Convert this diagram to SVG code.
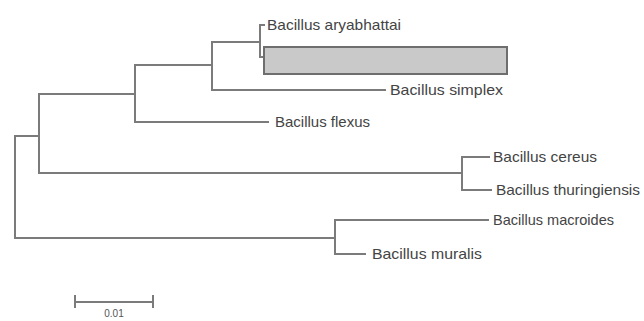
<svg xmlns="http://www.w3.org/2000/svg" width="644" height="321" viewBox="0 0 644 321">
<style>
.br{fill:none;stroke:#7b7b7b;stroke-width:2;stroke-linecap:square}
.lb{font-family:"Liberation Sans",Arial,sans-serif;font-size:15px;fill:#444444}
.sc{font-family:"Liberation Sans",Arial,sans-serif;font-size:10px;fill:#555}
</style>
<rect width="644" height="321" fill="#ffffff"/>
<g id="connectors">
<path class="br" d="M39,136 H15 V238 H335"/>
<path class="br" d="M39,94 V173 H462"/>
<path class="br" d="M135,94 H39"/>
<path class="br" d="M135,65 V122 H268"/>
<path class="br" d="M212,65 H135"/>
<path class="br" d="M212,42 V90 H385"/>
<path class="br" d="M260,42 H212"/>
<path class="br" d="M260,25 V57 H266"/>
<path class="br" d="M260,25 H264"/>
<path class="br" d="M462,157 V190"/>
<path class="br" d="M462,157 H489"/>
<path class="br" d="M462,190 H491"/>
<path class="br" d="M335,220 V254 H365"/>
<path class="br" d="M335,220 H488"/>
</g>
<g id="highlight-box"><rect x="264" y="47" width="243" height="27" fill="#c9c9c9" stroke="#6e6e6e" stroke-width="2"/></g>
<g id="n-aryabhattai"><text class="lb" x="267" y="30" textLength="134" lengthAdjust="spacingAndGlyphs">Bacillus aryabhattai</text></g>
<g id="n-simplex"><text class="lb" x="390" y="95" textLength="113" lengthAdjust="spacingAndGlyphs">Bacillus simplex</text></g>
<g id="n-flexus"><text class="lb" x="275" y="127">Bacillus flexus</text></g>
<g id="n-cereus"><text class="lb" x="493" y="162" textLength="104" lengthAdjust="spacingAndGlyphs">Bacillus cereus</text></g>
<g id="n-thuringiensis"><text class="lb" x="496" y="195" textLength="144" lengthAdjust="spacingAndGlyphs">Bacillus thuringiensis</text></g>
<g id="n-macroides"><text class="lb" x="493" y="225" textLength="121" lengthAdjust="spacingAndGlyphs">Bacillus macroides</text></g>
<g id="n-muralis"><text class="lb" x="372" y="259" textLength="110" lengthAdjust="spacingAndGlyphs">Bacillus muralis</text></g>
<g id="scale-bar">
<path class="br" d="M75,302 H153 M75,296 V307 M153,296 V307"/>
<text class="sc" x="114" y="317" text-anchor="middle">0.01</text>
</g>
</svg>
